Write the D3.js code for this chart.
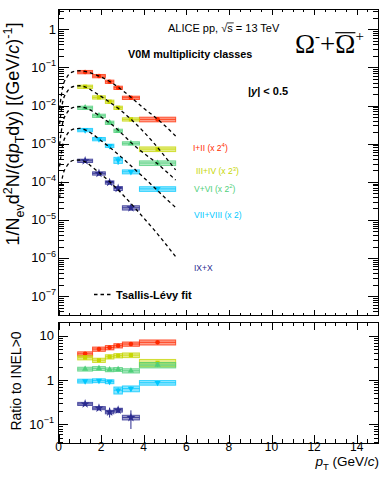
<!DOCTYPE html>
<html lang="en">
<head>
<meta charset="UTF-8">
<title>Omega spectra in V0M multiplicity classes</title>
<style>
    body { margin: 0; background: #fff; }
    text { font-family: 'Liberation Sans', Arial, sans-serif; fill: #000; }
    .frame { fill: none; stroke: #000; stroke-width: 1px; shape-rendering: crispEdges; }
    .tick { stroke: #000; stroke-width: 1px; shape-rendering: crispEdges; }
    .fit { fill: none; stroke: #000; stroke-width: 1.3px; stroke-dasharray: 3.5,3; }
</style>
</head>
<body>
<script src="https://d3js.org/d3.v7.min.js"></script>
<script>

    const width = 390;
    const height = 478;

    // pT bin edges (GeV/c)
    const binEdges = [0.9, 1.6, 2.2, 2.6, 3.0, 3.8, 5.5];
    const classes = ['I+II', 'III+IV', 'V+VI', 'VII+VIII', 'IX+X'];
    const scaleExp = ['4', '3', '2', '1', '0'];
    const colours = ['#ff2a00', '#c6d600', '#4fcf7a', '#00c8ff', '#2b2b8f'];
    const markers = [d3.symbolCircle, d3.symbolSquare, d3.symbolTriangle, d3.symbolTriangle, d3.symbolStar];

    // spectra as drawn (already scaled by 2^n)
    const spectra = [
        [0.0757, 0.0594, 0.0422, 0.0293, 0.0160, 0.00434],
        [0.0312, 0.0164, 0.0126, 0.00876, 0.00434, 0.00072],
        [0.00876, 0.0054, 0.00354, 0.00218, 0.00102, 0.00031],
        [0.00228, 0.00132, 0.00088, 0.00037, 0.000183, 0.000065],
        [0.000356, 0.000166, 0.000096, 0.000067, 0.0000208]
    ];
    const spectraStat = [
        [0.02, 0.03, 0.04, 0.05, 0.05, 0.08],
        [0.03, 0.03, 0.04, 0.05, 0.06, 0.1],
        [0.03, 0.04, 0.05, 0.06, 0.07, 0.1],
        [0.03, 0.04, 0.06, 0.25, 0.08, 0.1],
        [0.05, 0.06, 0.08, 0.1, 0.15]
    ];
    const spectraSyst = [
        [0.1, 0.1, 0.1, 0.1, 0.1, 0.14],
        [0.1, 0.1, 0.1, 0.1, 0.1, 0.14],
        [0.1, 0.1, 0.1, 0.1, 0.1, 0.14],
        [0.1, 0.1, 0.1, 0.18, 0.12, 0.14],
        [0.1, 0.1, 0.1, 0.12, 0.13]
    ];

    // Tsallis-Levy fits
    const fitPt = [0.05, 0.2, 0.4, 0.7, 1.0, 1.3, 1.6, 2.0, 2.5, 3.0, 3.5, 4.0, 4.5, 5.0, 5.5];
    const fits = [
        [0.00813, 0.0309, 0.0562, 0.0776, 0.0818, 0.0776, 0.0692, 0.0562, 0.0398, 0.0251, 0.0148, 0.00851, 0.00513, 0.00295, 0.00158],
        [0.00331, 0.0126, 0.0229, 0.0316, 0.0331, 0.0302, 0.0240, 0.0174, 0.0112, 0.00692, 0.00389, 0.00204, 0.00100, 0.000457, 0.000204],
        [0.000933, 0.00355, 0.00646, 0.00891, 0.00933, 0.00851, 0.00708, 0.00501, 0.00316, 0.00178, 0.000955, 0.000562, 0.000347, 0.000200, 0.000111],
        [0.000251, 0.000955, 0.00174, 0.00240, 0.00251, 0.00224, 0.00178, 0.00120, 0.000724, 0.000417, 0.000234, 0.000129, 0.0000708, 0.0000380, 0.0000213],
        [0.0000372, 0.000145, 0.000263, 0.000363, 0.000372, 0.000324, 0.000240, 0.000158, 0.0000891, 0.0000468, 0.0000234, 0.0000112, 0.00000537, 0.00000245, 0.00000108]
    ];

    // ratio to INEL>0
    const ratios = [
        [3.9, 5.0, 5.4, 5.95, 6.5, 7.1],
        [3.2, 2.8, 3.35, 3.55, 3.65, 2.45],
        [1.77, 1.83, 1.71, 1.74, 1.62, 2.18],
        [0.95, 0.97, 0.92, 0.59, 0.64, 0.87],
        [0.29, 0.233, 0.19, 0.21, 0.143]
    ];
    const ratioStat = [
        [0.05, 0.05, 0.06, 0.06, 0.07, 0.08],
        [0.05, 0.05, 0.06, 0.07, 0.08, 0.1],
        [0.05, 0.05, 0.06, 0.07, 0.08, 0.1],
        [0.05, 0.05, 0.07, 0.15, 0.12, 0.1],
        [0.06, 0.1, 0.25, 0.15, 0.45]
    ];
    const ratioSyst = [
        [0.11, 0.11, 0.11, 0.11, 0.11, 0.13],
        [0.11, 0.11, 0.11, 0.11, 0.12, 0.19],
        [0.1, 0.1, 0.1, 0.1, 0.11, 0.14],
        [0.1, 0.1, 0.1, 0.18, 0.15, 0.12],
        [0.08, 0.08, 0.09, 0.1, 0.12]
    ];

    const xTicks = [0, 2, 4, 6, 8, 10, 12, 14];
    const topDecades = [0, -1, -2, -3, -4, -5, -6, -7];
    const ratioDecades = [1, 0, -1];

    // layout
    const labelX = [193, 196, 194, 194, 194];
    const labelY = [150.7, 174, 191.5, 217.5, 270.5];
    const upper = {'x0': 58.5, 'x1': 378, 'y0': 9.3, 'y1': 315.5};
    const lower = {'x0': 58.5, 'x1': 378, 'y0': 322, 'y1': 443};

    let svg = d3.select('body').append('svg')
        .attr('width', width)
        .attr('height', height);

    let x = d3.scaleLinear().domain([0, 15]).range([upper.x0, upper.x1]);
    let yTop = d3.scaleLog().domain([3.1e-8, 3.35]).range([upper.y1, upper.y0]);
    let yBot = d3.scaleLog().domain([0.038, 20.4]).range([lower.y1, lower.y0]);

    function drawXTicks(g, p, majorLen, minorLen) {
        let vals = d3.range(0, 15.01, 0.5);
        vals.forEach(function(v) {
            let len = (v % 2 === 0) ? majorLen : minorLen;
            let px = Math.round(x(v)) + 0.5;
            g.append('line').attr('class', 'tick')
                .attr('x1', px).attr('x2', px).attr('y1', p.y1).attr('y2', p.y1 - len);
            g.append('line').attr('class', 'tick')
                .attr('x1', px).attr('x2', px).attr('y1', p.y0).attr('y2', p.y0 + len);
        });
    }

    function drawLogTicks(g, scale, p, majorLen, minorLen) {
        let dom = scale.domain();
        let lo = Math.floor(Math.log10(dom[0]));
        let hi = Math.ceil(Math.log10(dom[1]));
        for (let e = lo; e <= hi; e++) {
            for (let m = 1; m <= 9; m++) {
                let v = m * Math.pow(10, e);
                if (v < dom[0] || v > dom[1]) continue;
                let len = (m === 1) ? majorLen : minorLen;
                let py = Math.round(scale(v)) + 0.5;
                g.append('line').attr('class', 'tick')
                    .attr('x1', p.x0).attr('x2', p.x0 + len).attr('y1', py).attr('y2', py);
                g.append('line').attr('class', 'tick')
                    .attr('x1', p.x1).attr('x2', p.x1 - len).attr('y1', py).attr('y2', py);
            }
        }
    }

    function powLabel(g, px, py, exp, size) {
        let t = g.append('text')
            .attr('x', px).attr('y', py)
            .attr('text-anchor', 'end')
            .style('font-size', size + 'px');
        if (exp === 0) {
            t.text('1');
        } else if (exp === 1) {
            t.text('10');
        } else {
            t.append('tspan').text('10');
            t.append('tspan').attr('dy', -size * 0.42).style('font-size', (size * 0.7) + 'px').text('\u2212' + (-exp));
        }
    }

    function drawPoints(g, yScale, values, stat, syst, i) {
        let col = colours[i];
        let pts = values.map(function(v, k) {
            return {'lo': binEdges[k], 'hi': binEdges[k + 1], 'c': (binEdges[k] + binEdges[k + 1]) / 2,
                    'v': v, 'st': stat[k], 'sy': syst[k]};
        });
        let grp = g.append('g');
        grp.selectAll('rect').data(pts).join('rect')
            .attr('x', d => x(d.lo))
            .attr('width', d => x(d.hi) - x(d.lo))
            .attr('y', d => yScale(d.v * (1 + d.sy)))
            .attr('height', d => yScale(d.v * (1 - d.sy)) - yScale(d.v * (1 + d.sy)))
            .style('fill', col).style('fill-opacity', 0.45)
            .style('stroke', col).style('stroke-opacity', 0.75).style('stroke-width', 1);
        grp.selectAll('line.hbar').data(pts).join('line').attr('class', 'hbar')
            .attr('x1', d => x(d.lo)).attr('x2', d => x(d.hi))
            .attr('y1', d => yScale(d.v)).attr('y2', d => yScale(d.v))
            .style('stroke', col).style('stroke-opacity', 0.8).style('stroke-width', 1);
        grp.selectAll('line.vbar').data(pts).join('line').attr('class', 'vbar')
            .attr('x1', d => x(d.c)).attr('x2', d => x(d.c))
            .attr('y1', d => yScale(d.v * (1 + d.st))).attr('y2', d => yScale(d.v * (1 - d.st)))
            .style('stroke', col).style('stroke-width', 1);
        return {'grp': grp, 'pts': pts};
    }

    function drawMarkers(g, yScale, pts, i) {
        let sym = d3.symbol().type(markers[i]).size(i === 4 ? 26 : 17);
        g.selectAll('path.marker' + i).data(pts).join('path').attr('class', 'marker' + i)
            .attr('d', sym)
            .attr('transform', d => 'translate(' + x(d.c) + ',' + yScale(d.v) + ')' + (i === 3 ? ' rotate(180)' : ''))
            .style('fill', colours[i]);
    }

    // ---------- top panel ----------
    let topG = svg.append('g');
    let topPts = [];
    for (let i = 0; i < classes.length; i++) {
        topPts.push(drawPoints(topG, yTop, spectra[i], spectraStat[i], spectraSyst[i], i));
    }

    let fitLine = d3.line()
        .curve(d3.curveMonotoneX)
        .x(d => x(d[0]))
        .y(d => yTop(d[1]));
    for (let i = 0; i < fits.length; i++) {
        topG.append('path')
            .datum(fitPt.map((p, k) => [p, fits[i][k]]))
            .attr('class', 'fit')
            .attr('d', fitLine);
    }
    for (let i = 0; i < classes.length; i++) {
        drawMarkers(topPts[i].grp, yTop, topPts[i].pts, i);
    }

    topG.append('rect').attr('class', 'frame')
        .attr('x', upper.x0).attr('y', upper.y0)
        .attr('width', upper.x1 - upper.x0).attr('height', upper.y1 - upper.y0);
    drawXTicks(topG, upper, 6, 3);
    drawLogTicks(topG, yTop, upper, 10, 5);
    topDecades.forEach(e => powLabel(topG, 56, yTop(Math.pow(10, e)) + 4.5, e, 13));

    // y title (top)
    let yt = svg.append('text')
        .attr('transform', 'translate(18.5,134) rotate(-90)')
        .attr('text-anchor', 'middle')
        .style('font-size', '18px');
    yt.append('tspan').text('1/N');
    yt.append('tspan').attr('dy', 5).style('font-size', '12.5px').text('ev');
    yt.append('tspan').attr('dy', -5).text('d');
    yt.append('tspan').attr('dy', -7).style('font-size', '12.5px').text('2');
    yt.append('tspan').attr('dy', 7).text('N/(d');
    yt.append('tspan').style('font-style', 'italic').text('p');
    yt.append('tspan').attr('dy', 5).style('font-size', '12.5px').text('T');
    yt.append('tspan').attr('dy', -5).text('dy) [(GeV/');
    yt.append('tspan').style('font-style', 'italic').text('c');
    yt.append('tspan').text(')');
    yt.append('tspan').attr('dy', -7).style('font-size', '12.5px').text('-1');
    yt.append('tspan').attr('dy', 7).text(']');

    // header texts
    let alice = svg.append('text').attr('x', 168).attr('y', 31.5).style('font-size', '11px');
    alice.append('tspan').text('ALICE pp, \u221A');
    let sTs = alice.append('tspan').text('s');
    alice.append('tspan').text(' = 13 TeV');
    let sBox = sTs.node().getBBox();
    svg.append('line')
        .attr('x1', sBox.x - 0.5).attr('x2', sBox.x + sBox.width + 0.5)
        .attr('y1', 31.5 - 8.6).attr('y2', 31.5 - 8.6)
        .style('stroke', '#000').style('stroke-width', 0.8);

    svg.append('text').attr('x', 128).attr('y', 57.5)
        .style('font-size', '10.8px').style('font-weight', 'bold')
        .text('V0M multiplicity classes');

    let rap = svg.append('text').attr('x', 248).attr('y', 95)
        .style('font-size', '11px').style('font-weight', 'bold');
    rap.append('tspan').text('|');
    rap.append('tspan').style('font-style', 'italic').text('y');
    rap.append('tspan').text('| < 0.5');

    let om = svg.append('text').attr('x', 295).attr('y', 53.3)
        .style('font-family', "'Liberation Serif', 'Times New Roman', serif")
        .style('font-size', '27px');
    om.append('tspan').text('\u03A9');
    om.append('tspan').attr('dy', -12).style('font-size', '15px').text('-');
    om.append('tspan').attr('dy', 12).text('+');
    let omBar = om.append('tspan').text('\u03A9');
    om.append('tspan').attr('dy', -12).style('font-size', '15px').text('+');
    let oBox = omBar.node().getBBox();
    svg.append('line')
        .attr('x1', oBox.x).attr('x2', oBox.x + oBox.width)
        .attr('y1', 32.7).attr('y2', 32.7)
        .style('stroke', '#000').style('stroke-width', 1.2);

    // class labels
    for (let i = 0; i < classes.length; i++) {
        let t = svg.append('text')
            .attr('x', labelX[i]).attr('y', labelY[i])
            .style('font-size', '8.5px')
            .style('fill', colours[i]);
        if (scaleExp[i] === '0') {
            t.text(classes[i]);
        } else if (scaleExp[i] === '1') {
            t.text(classes[i] + ' (x 2)');
        } else {
            t.append('tspan').text(classes[i] + ' (x 2');
            t.append('tspan').attr('dy', -3.5).style('font-size', '6px').text(scaleExp[i]);
            t.append('tspan').attr('dy', 3.5).text(')');
        }
    }

    // fit legend
    svg.append('line')
        .attr('x1', 94).attr('x2', 112).attr('y1', 294.5).attr('y2', 294.5)
        .attr('class', 'fit');
    svg.append('text').attr('x', 116).attr('y', 298.5)
        .style('font-size', '11px').style('font-weight', 'bold')
        .text('Tsallis-L\u00E9vy fit');

    // ---------- bottom panel ----------
    let botG = svg.append('g');
    for (let i = 0; i < classes.length; i++) {
        let r = drawPoints(botG, yBot, ratios[i], ratioStat[i], ratioSyst[i], i);
        drawMarkers(r.grp, yBot, r.pts, i);
    }
    botG.append('rect').attr('class', 'frame')
        .attr('x', lower.x0).attr('y', lower.y0)
        .attr('width', lower.x1 - lower.x0).attr('height', lower.y1 - lower.y0);
    drawXTicks(botG, lower, 8, 4);
    drawLogTicks(botG, yBot, lower, 9, 4.5);
    ratioDecades.forEach(e => powLabel(botG, 54, yBot(Math.pow(10, e)) + 4.5, e, 13));

    xTicks.forEach(function(v) {
        botG.append('text')
            .attr('x', x(v)).attr('y', 450.5)
            .attr('text-anchor', 'middle')
            .style('font-size', '12px')
            .text(v);
    });

    let xt = svg.append('text').attr('x', 379).attr('y', 466)
        .attr('text-anchor', 'end').style('font-size', '13.5px');
    xt.append('tspan').style('font-style', 'italic').text('p');
    xt.append('tspan').attr('dy', 4).style('font-size', '9.5px').text('T');
    xt.append('tspan').attr('dy', -4).text(' (GeV/');
    xt.append('tspan').style('font-style', 'italic').text('c');
    xt.append('tspan').text(')');

    svg.append('text')
        .attr('transform', 'translate(20.5,381) rotate(-90)')
        .attr('text-anchor', 'middle')
        .style('font-size', '14px')
        .text('Ratio to INEL>0');

</script>
</body>
</html>
